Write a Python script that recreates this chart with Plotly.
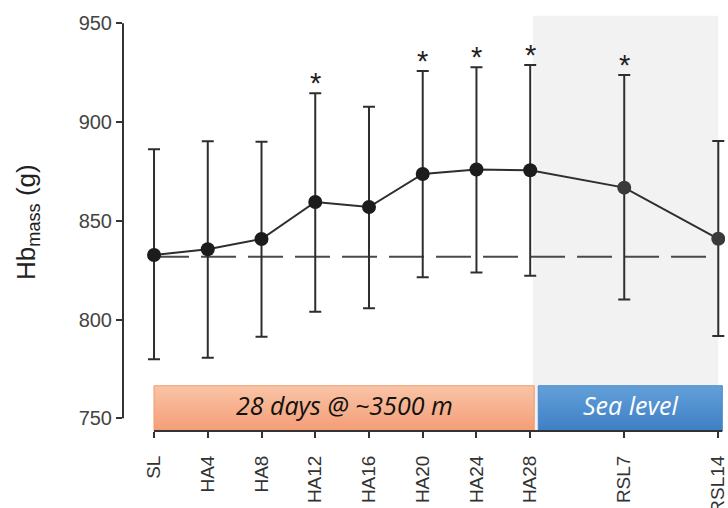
import plotly.graph_objects as go

# Sampling days (SL = baseline, HA = days at altitude, RSL = days after return)
days = [0, 4, 8, 12, 16, 20, 24, 28, 35, 42]
labels = ["SL", "HA4", "HA8", "HA12", "HA16", "HA20", "HA24", "HA28", "RSL7", "RSL14"]
hb_mass = [832.7, 835.6, 840.8, 859.5, 857.0, 873.7, 876.0, 875.6, 866.8, 840.9]
err_upper = [886.2, 890.3, 890.0, 914.6, 907.8, 925.9, 927.7, 928.9, 923.8, 890.4]
err_lower = [779.9, 780.7, 791.3, 804.0, 805.7, 821.4, 823.8, 822.2, 810.2, 791.7]
significant = [False, False, False, True, False, True, True, True, True, False]

# Study phases shown as banners above the x axis
phase_names = ["28 days @ ~3500 m", "Sea level"]
phase_start = [0.0, 28.6]
phase_end = [28.3, 42.3]

Y_LO, Y_HI = 743.6, 955.2
X_LO, X_HI = -2.31, 42.5
BANNER_TOP = 766.5

plus = [u - m for u, m in zip(err_upper, hb_mass)]
minus = [m - l for m, l in zip(hb_mass, err_lower)]

fig = go.Figure()

# Phase banners with vertical gradients
banner_styles = [
    dict(scale=[[0, "#f49d76"], [1, "#f9c4a6"]], line="#ef9a6c", text="#111111"),
    dict(scale=[[0, "#3e7fc5"], [1, "#62a0d8"]], line="#4a88cc", text="#ffffff"),
]
for name, x0, x1, st in zip(phase_names, phase_start, phase_end, banner_styles):
    fig.add_trace(go.Scatter(
        x=[x0, x1, x1, x0, x0], y=[Y_LO, Y_LO, BANNER_TOP, BANNER_TOP, Y_LO],
        mode="lines", fill="toself",
        fillgradient=dict(type="vertical", colorscale=st["scale"]),
        line=dict(color=st["line"], width=1),
        hoverinfo="skip", showlegend=False,
    ))
    fig.add_annotation(
        x=(x0 + x1) / 2, y=(Y_LO + BANNER_TOP) / 2, text=f"<i>{name}</i>",
        showarrow=False, font=dict(family="Open Sans", size=25, color=st["text"]),
        xanchor="center", yanchor="middle", yshift=3,
    )

# Baseline reference (dashed)
fig.add_trace(go.Scatter(
    x=[days[0], days[-1]], y=[hb_mass[0] - 0.9] * 2, mode="lines",
    line=dict(color="#4a4a4a", width=2, dash="35px,12px"),
    hoverinfo="skip", showlegend=False,
))

# Mean ± SD
fig.add_trace(go.Scatter(
    x=days, y=hb_mass, mode="lines+markers",
    line=dict(color="#2e2e2e", width=2),
    marker=dict(size=14, color=["#1c1c1c"] * 8 + ["#3a3a3a"] * 2),
    error_y=dict(type="data", symmetric=False, array=plus, arrayminus=minus,
                 color="#2e2e2e", thickness=2, width=6),
    showlegend=False,
))

# Significance markers
for d, u, s in zip(days, err_upper, significant):
    if s:
        fig.add_annotation(x=d, y=u, text="*", showarrow=False,
                           font=dict(family="Arial", size=29, color="#222222"),
                           yanchor="bottom", yshift=-8)

# Shaded recovery period
fig.add_shape(type="rect", xref="x", yref="y", x0=28.2, x1=42.0, y0=Y_LO, y1=953.8,
              fillcolor="#f2f2f2", line=dict(width=0), layer="below")

# Axis lines drawn explicitly
fig.add_shape(type="line", xref="paper", yref="y", x0=0, x1=0, y0=750, y1=950,
              line=dict(color="#333333", width=2))
fig.add_shape(type="line", xref="x", yref="paper", x0=0, x1=42.3, y0=0, y1=0,
              line=dict(color="#333333", width=2))

fig.add_annotation(
    xref="paper", yref="y", x=(27 - 123) / 602, y=849.4,
    text="Hb<sub>mass</sub> (g)", textangle=-90, showarrow=False,
    font=dict(family="Arial", size=26, color="#222222"),
    xanchor="center", yanchor="middle",
)

fig.update_layout(
    width=728, height=508,
    margin=dict(l=123, r=3, t=13, b=77, autoexpand=False),
    paper_bgcolor="white", plot_bgcolor="white",
    xaxis=dict(range=[X_LO, X_HI], tickmode="array", tickvals=days, ticktext=labels,
               tickangle=-90, ticks="outside", ticklen=6, tickwidth=2, tickcolor="#333333",
               ticklabeloverflow="allow", ticklabelstandoff=10, automargin=False,
               showgrid=False, zeroline=False, showline=False,
               tickfont=dict(family="Arial", size=19, color="#333333")),
    yaxis=dict(range=[Y_LO, Y_HI], tickmode="array", tickvals=[750, 800, 850, 900, 950],
               ticks="outside", ticklen=6, tickwidth=2, tickcolor="#333333",
               automargin=False,
               showgrid=False, zeroline=False, showline=False,
               tickfont=dict(family="Arial", size=20, color="#444444")),
)

fig.write_html("out.html")
